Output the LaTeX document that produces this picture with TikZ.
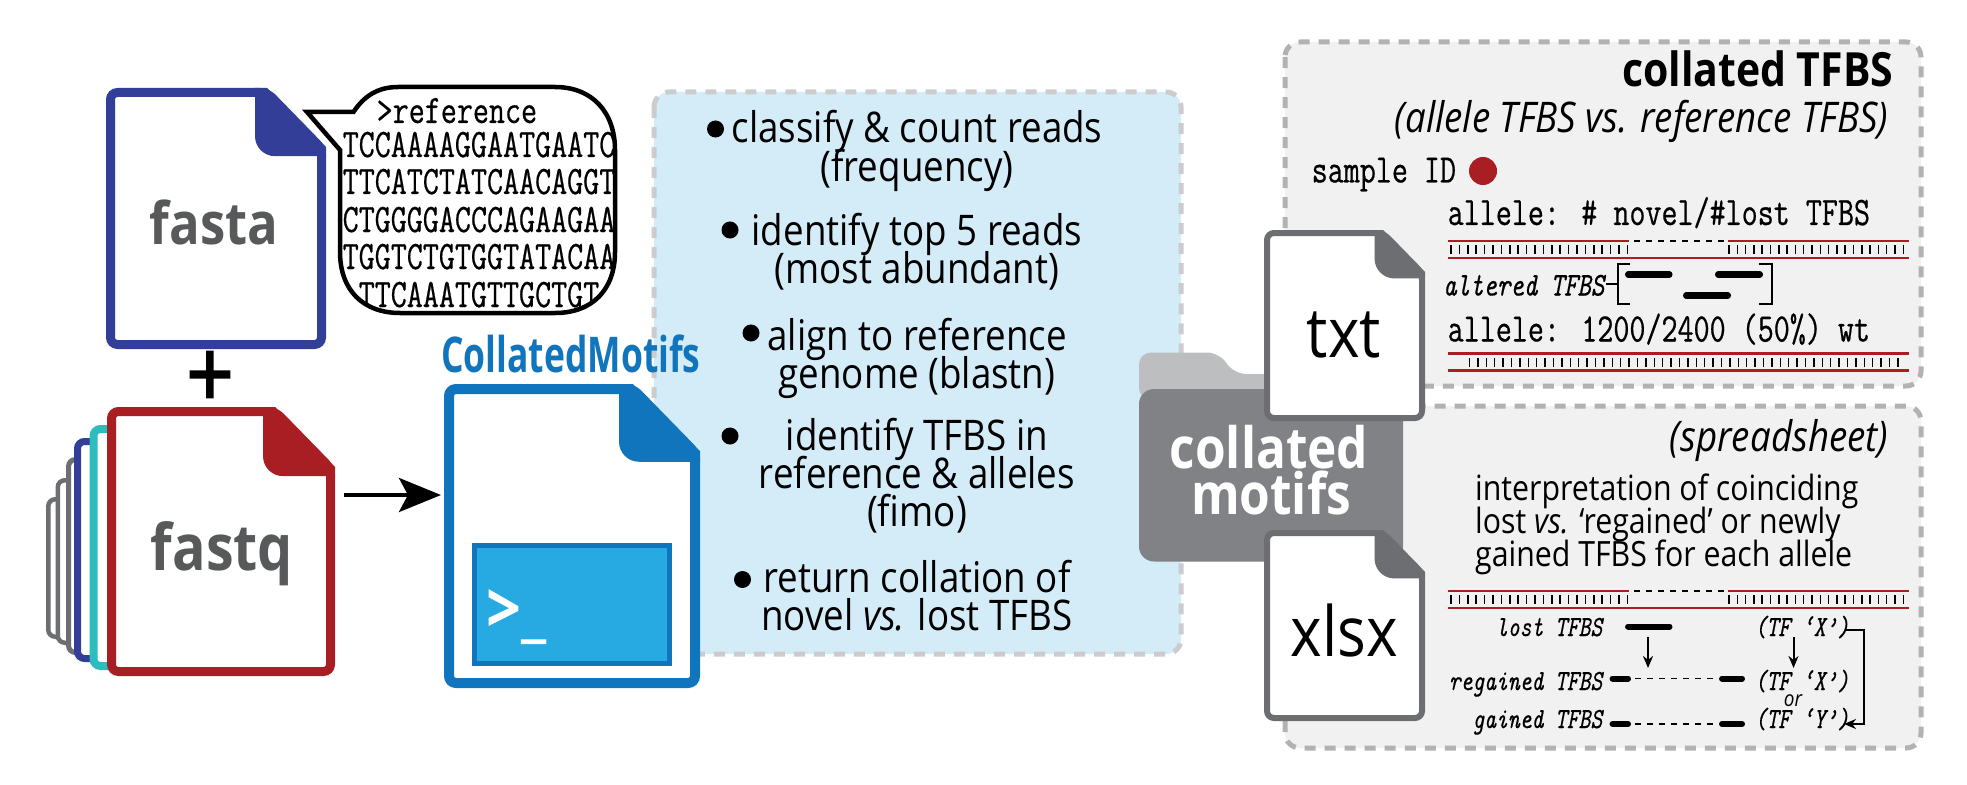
\documentclass[tikz,border=0pt]{standalone}
\usepackage{fontspec}
\setmainfont{Open Sans}[FakeStretch=.87]
\newfontfamily\tightsans{Open Sans}[FakeStretch=.72]
\newfontfamily\heavysans{Open Sans}[FakeStretch=.87, FakeBold=2]
\newfontfamily\tfont{Latin Modern Mono}[FakeStretch=.77, FakeBold=.5]
\usetikzlibrary{arrows.meta}
\definecolor{navy}{HTML}{323E98}
\definecolor{allelered}{HTML}{A91E23}
\definecolor{tealdoc}{HTML}{2DBDBE}
\definecolor{darkgray}{HTML}{6D6E71}
\definecolor{foldergray}{HTML}{808285}
\definecolor{foldertab}{HTML}{BCBEC0}
\definecolor{toolblue}{HTML}{1075BC}
\definecolor{termblue}{HTML}{27AAE1}
\definecolor{panelblue}{HTML}{D4ECF8}
\definecolor{panelgray}{HTML}{F1F1F2}
\definecolor{labelgray}{HTML}{58595B}
\tikzset{
  panel/.style={rounded corners=.15cm, line width=.05cm, dash pattern=on .11cm off .09cm},
  mono/.style={inner sep=0pt, anchor=base west, font=\tfont\fontsize{11.5}{13}\selectfont},
  monoit/.style={inner sep=0pt, anchor=base east, font=\tfont\itshape\fontsize{8.3}{10}\selectfont},
  body/.style={inner sep=0pt, anchor=base, font=\fontsize{12}{14}\selectfont},
  note/.style={inner sep=0pt, anchor=base west, font=\fontsize{9.9}{11}\selectfont},
  dot/.style={circle, fill=black, inner sep=0pt, minimum size=.17cm},
  tfbsbar/.style={line width=.06cm, line cap=round},
  thindash/.style={line width=.015cm, dash pattern=on .06cm off .06cm},
  redline/.style={allelered, line width=.028cm},
  tick/.style={line width=.015cm},
  thinarrow/.style={line width=.02cm, -{Stealth[length=.12cm,width=.1cm]}}
}
% file icon: colour, line width, left, top, right, bottom, fold size
\newcommand{\docfile}[7]{
  \draw[#1, line width=#2*.01cm, fill=white, rounded corners=.07cm] ({#3+#2/2},{#4+#2/2}) -- ({#5-.83*#7},{#4+#2/2}) -- ({#5-#2/2},{#4+.85*#7}) -- ({#5-#2/2},{#6-#2/2}) -- ({#3+#2/2},{#6-#2/2}) -- cycle;
  \fill[#1] ({#5-#7},#4) -- ({#5-.83*#7},#4) -- (#5,{#4+.83*#7}) -- (#5,{#4+.96*#7}) [rounded corners=.2cm] -- ({#5-#7},{#4+.96*#7}) [sharp corners] -- cycle;
}
% reference strand with a deleted stretch, top line at y=#1
\newcommand{\cutstrand}[1]{
  \draw[redline] (1448,#1) -- (1629,#1) (1727.5,#1) -- (1909,#1) (1448,#1+17) -- (1909,#1+17);
  \draw[thindash] (1634,#1) -- (1724,#1);
  \foreach \tx in {1451,1459.4,...,1629} \draw[tick] (\tx,#1+4) -- (\tx,#1+13);
  \foreach \tx in {1729,1737.3,...,1905} \draw[tick] (\tx,#1+4) -- (\tx,#1+13);
}
\newcommand{\bubblepath}{(307,112) -- (353.5,112) .. controls (364,96) and (378,87) .. (398,87) -- (555,87) .. controls (592,87) and (615,112) .. (615,150) -- (615,252) .. controls (615,290) and (592,313) .. (555,313) -- (400,313) .. controls (363,313) and (340,290) .. (340,252) -- (340,150) -- cycle}
\begin{document}
\begin{tikzpicture}[x=.01cm, y=-.01cm]
\useasboundingbox (0,0) rectangle (1967,785);
% panels
\draw[panel, draw=black!20, fill=panelblue] (654,92) rectangle (1181,654);
\draw[panel, draw=black!30, fill=panelgray] (1285,42) rectangle (1921,386);
\draw[panel, draw=black!30, fill=panelgray] (1285,406) rectangle (1921,748);
% input files
\docfile{navy}{9}{106}{88}{326}{349}{71}
\node[inner sep=0pt, anchor=base, labelgray, font=\bfseries\fontsize{16.6}{18}\selectfont] (fastalabel) at (214,245) {fasta};
\foreach \lft/\tp/\bt/\cl/\wd in {46/497/639/darkgray/4.5, 55.5/478/645/darkgray/4.5, 66/457/655/darkgray/5, 74/438/662/navy/7, 89.5/425/670/tealdoc/8}
  \draw[\cl, line width=\wd*.01cm, fill=white, rounded corners=.07cm] ({\lft+\wd/2},{\tp+\wd/2}) rectangle (125,{\bt-\wd/2});
\docfile{allelered}{9}{107}{407}{335}{676}{72}
\node[inner sep=0pt, anchor=base, labelgray, font=\bfseries\fontsize{18.2}{20}\selectfont] (fastqlabel) at (222,570) {fastq};
\node[inner sep=0pt, anchor=base, font=\heavysans\fontsize{27}{29}\selectfont] (plus) at (210,408) {+};
% speech bubble
\fill[white] \bubblepath;
\begin{scope}
  \clip \bubblepath;
  \node[mono] (refname) at (376,123) {>reference};
  \node[mono] (seqa) at (342,157) {TCCAAAAGGAATGAATC};
  \node[mono] (seqb) at (342,194) {TTCATCTATCAACAGGT};
  \node[mono] (seqc) at (342,232) {CTGGGGACCCAGAAGAA};
  \node[mono] (seqd) at (342,269) {TGGTCTGTGGTATACAA};
  \node[mono] (seqe) at (358,307) {TTCAAATGTTGCTGT};
\end{scope}
\draw[line width=.045cm, line join=miter] \bubblepath;
% tool
\node[inner sep=0pt, anchor=base, toolblue, font=\tightsans\bfseries\fontsize{14}{16}\selectfont] (toolname) at (571,372) {CollatedMotifs};
\docfile{toolblue}{10}{444}{384}{700}{688}{81}
\draw[toolblue, line width=.05cm, fill=termblue] (474,545) rectangle (669.5,663);
\node[inner sep=0pt, anchor=base west, white, font=\bfseries\fontsize{20}{22}\selectfont] (prompt) at (486,633) {>\_};
\coordinate (fastqout) at (344,495);
\coordinate (toolin) at (441,495);
\draw[line width=.04cm, -{Stealth[length=.42cm,width=.34cm,inset=.09cm]}] (fastqout) -- (toolin);
% steps
\node[dot] (dota) at (715.5,129) {};
\node[body] (stepa) at (917,143) {classify \& count reads};
\node[body] (stepb) at (917,181.5) {(frequency)};
\node[dot] (dotb) at (730,230) {};
\node[body] (stepc) at (917,245.5) {identify top 5 reads};
\node[body] (stepd) at (917,284) {(most abundant)};
\node[dot] (dotc) at (751,333) {};
\node[body] (stepe) at (917,350) {align to reference};
\node[body] (stepf) at (917,388) {genome (blastn)};
\node[dot] (dotd) at (730,436) {};
\node[body] (stepg) at (917,450) {identify TFBS in};
\node[body] (steph) at (917,488) {reference \& alleles};
\node[body] (stepi) at (917,526) {(fimo)};
\node[dot] (dote) at (742.5,579.5) {};
\node[body] (stepj) at (917,592) {return collation of};
\node[body] (stepk) at (917,630) {novel \textit{vs.} lost TFBS};
% folder
\fill[foldertab, rounded corners=.12cm] (1139,400) -- (1139,352.5) -- (1219,352.5) -- (1234,374) -- (1280,374) -- (1280,400) -- cycle;
\fill[foldergray, rounded corners=.15cm] (1139,389) rectangle (1403,561.5);
\node[inner sep=0pt, anchor=base, white, font=\bfseries\fontsize{16.2}{18}\selectfont] (foldera) at (1269,468) {collated};
\node[inner sep=0pt, anchor=base, white, font=\bfseries\fontsize{16.2}{18}\selectfont] (folderb) at (1271,514) {motifs};
% output files
\docfile{darkgray}{6}{1264}{230}{1425}{421}{50.5}
\node[inner sep=0pt, anchor=base, font=\fontsize{19.7}{21}\selectfont] (txtlabel) at (1344,357) {txt};
\docfile{darkgray}{6}{1264}{530}{1425}{721}{50.5}
\node[inner sep=0pt, anchor=base, font=\fontsize{19.7}{21}\selectfont] (xlsxlabel) at (1344,656) {xlsx};
% collated TFBS panel
\node[inner sep=0pt, anchor=base east, font=\bfseries\fontsize{13.4}{15}\selectfont] (txttitle) at (1894,87) {collated TFBS};
\node[inner sep=0pt, anchor=base east, font=\itshape\fontsize{12}{14}\selectfont] (txtsub) at (1889,133) {(allele TFBS vs. reference TFBS)};
\node[mono] (sampleid) at (1311,182.5) {sample ID};
\node[circle, fill=allelered, inner sep=0pt, minimum size=.28cm] (sampledot) at (1483,171) {};
\node[mono] (allelea) at (1447,225) {allele: \# novel/\#lost TFBS};
\cutstrand{241}
\node[monoit, font=\tfont\itshape\fontsize{9.44}{11}\selectfont] (altered) at (1605,295.5) {altered TFBS};
\draw[line width=.013cm] (1606,284) -- (1618,284) (1630,264) -- (1618,264) -- (1618,304) -- (1630,304);
\draw[line width=.013cm] (1759,264) -- (1772,264) -- (1772,304) -- (1759,304);
\draw[tfbsbar] (1628,274.5) -- (1669.5,274.5) (1718,274.5) -- (1760,274.5) (1686,295.5) -- (1728,295.5);
\node[mono] (alleleb) at (1447,341.5) {allele: 1200/2400 (50\%) wt};
\draw[redline] (1448,353.5) -- (1909,353.5) (1448,370.5) -- (1909,370.5);
\foreach \tx in {1469.5,1477.9,...,1905} \draw[tick] (\tx,358) -- (\tx,367);
% spreadsheet panel
\node[inner sep=0pt, anchor=base east, font=\itshape\fontsize{12}{14}\selectfont] (xlsxsub) at (1889,451.5) {(spreadsheet)};
\node[note] (notea) at (1474.5,500.5) {interpretation of coinciding};
\node[note] (noteb) at (1474.5,533.5) {lost \textit{vs.} ‘regained’ or newly};
\node[note] (notec) at (1474.5,566.5) {gained TFBS for each allele};
\cutstrand{591}
\node[monoit] (lostlabel) at (1603,636) {lost TFBS};
\node[monoit] (regainedlabel) at (1603,690) {regained TFBS};
\node[monoit] (gainedlabel) at (1603,728) {gained TFBS};
\node[monoit, anchor=base west] (tfxa) at (1754,636) {(TF ‘X’)};
\node[monoit, anchor=base west] (tfxb) at (1754,690) {(TF ‘X’)};
\node[monoit, anchor=base west] (tfy) at (1754,728) {(TF ‘Y’)};
\node[inner sep=0pt, anchor=base, font=\itshape\fontsize{6.2}{7}\selectfont] (orlabel) at (1793,706) {or};
\draw[tfbsbar] (1628,626.5) -- (1669.5,626.5);
\draw[tfbsbar] (1612.5,678.5) -- (1628,678.5) (1722,678.5) -- (1742,678.5);
\draw[tfbsbar] (1612.5,724) -- (1628,724) (1722,724) -- (1742,724);
\draw[thindash] (1635,678.5) -- (1715,678.5) (1635,724) -- (1715,724);
\coordinate (lostfrom) at (1648,637);
\coordinate (lostto) at (1648,668);
\coordinate (tfxfrom) at (1793.5,637);
\coordinate (tfxto) at (1793.5,668);
\coordinate (tfxout) at (1846,630);
\coordinate (tfyin) at (1844,724);
\draw[thinarrow] (lostfrom) -- (lostto);
\draw[thinarrow] (tfxfrom) -- (tfxto);
\draw[thinarrow] (tfxout) -- ++(18,0) |- (tfyin);
\end{tikzpicture}
\end{document}
